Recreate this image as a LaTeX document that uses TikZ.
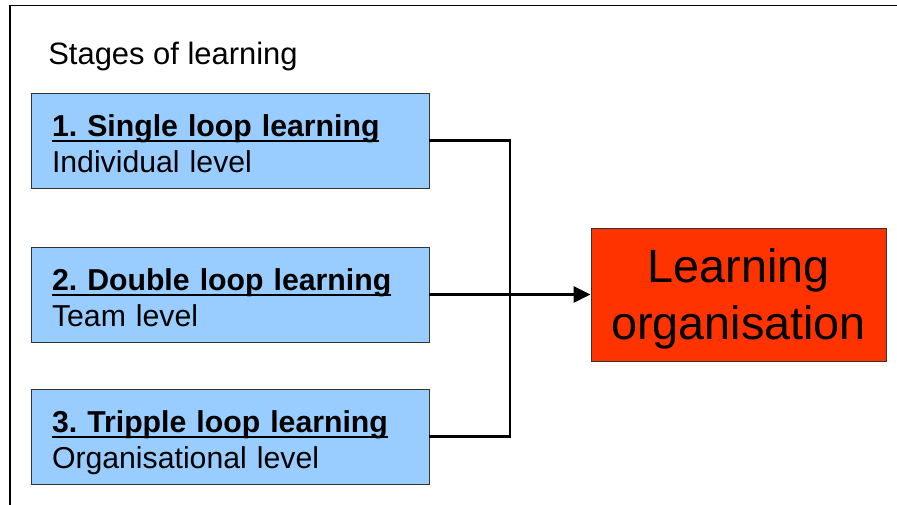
\documentclass[tikz,border=0pt]{standalone}
\usepackage{fontspec}
\setmainfont{Liberation Sans}
\usepackage{tikz}
\usetikzlibrary{positioning,arrows.meta,calc}
\usepackage{xcolor}
\definecolor{stageblue}{HTML}{99CCFF}
\definecolor{orgred}{HTML}{FF3300}
\newcommand{\stagehead}[1]{\setbox0\hbox{\textbf{#1}}\rlap{\rule[-3.2pt]{\wd0}{1.1pt}}\box0}

\begin{document}
\begin{tikzpicture}[
    stageBox/.style={rectangle, draw=black!80, fill=stageblue, line width=0.5pt, font=\fontsize{17.2}{20.5}\selectfont, text width=7.12cm, inner xsep=0.42cm, inner ysep=0pt, align=left, minimum width=7.96cm, minimum height=1.9cm, text height=0.4cm, text depth=0.56cm},
    goalBox/.style={rectangle, draw=black!80, fill=orgred, line width=0.5pt, font=\fontsize{26.6}{31.9}\selectfont, text width=5.9cm, inner xsep=0pt, align=center, minimum height=2.66cm, inner ysep=0pt, text height=0.66cm, text depth=1.12cm},
    linkStyle/.style={line width=1.7pt, draw=black},
    arrowStyle/.style={-{Triangle[length=0.34cm,width=0.32cm]}, line width=1.7pt, draw=black}
]
    \useasboundingbox (0,0) rectangle (17.94,10.1);
    \draw[line width=1.1pt] (0.2,0) -- (0.2,9.99) -- (17.94,9.99);

    \node[anchor=base west, font=\fontsize{17.6}{20}\selectfont, inner sep=0pt] (title) at (0.96, 8.8) {Stages of learning};

    \node[stageBox] (single) at (4.6, 7.29) {
        \stagehead{1.\ Single loop learning}\\
        Individual level
    };

    \node[stageBox] (double) at (4.6, 4.21) {
        \stagehead{2.\ Double loop learning}\\
        Team level
    };

    \node[stageBox] (triple) at (4.6, 1.37) {
        \stagehead{3.\ Tripple loop learning}\\
        Organisational level
    };

    \node[goalBox] (org) at (14.77, 4.21) {Learning\\organisation};

    \coordinate (merge) at (10.2, 4.21);
    \draw[linkStyle] (single.east) -| (merge) |- (triple.east);
    \draw[arrowStyle] (double.east) -- (org.west);
\end{tikzpicture}
\end{document}
